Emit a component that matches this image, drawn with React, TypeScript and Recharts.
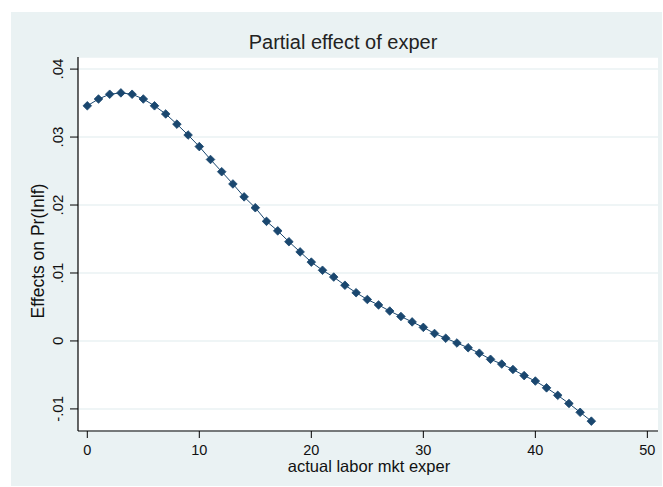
import React from "react";
import {
  LineChart,
  Line,
  XAxis,
  YAxis,
  CartesianGrid,
} from "recharts";

// experience in years, 0..45
const exper = [
  0, 1, 2, 3, 4, 5, 6, 7, 8, 9, 10, 11, 12, 13, 14, 15, 16, 17, 18, 19, 20, 21,
  22, 23, 24, 25, 26, 27, 28, 29, 30, 31, 32, 33, 34, 35, 36, 37, 38, 39, 40,
  41, 42, 43, 44, 45,
];

// partial effect on Pr(inlf)
const effect = [
  0.0346, 0.0356, 0.0363, 0.0365, 0.0363, 0.0356, 0.0346, 0.0334, 0.0319,
  0.0303, 0.0286, 0.0267, 0.0249, 0.0231, 0.0212, 0.0196, 0.0176, 0.0162,
  0.0146, 0.0131, 0.0116, 0.0104, 0.0094, 0.0082, 0.0071, 0.0061, 0.0053,
  0.0044, 0.0036, 0.0028, 0.002, 0.0011, 0.0004, -0.0003, -0.001, -0.0018,
  -0.0027, -0.0034, -0.0042, -0.0051, -0.0059, -0.0069, -0.008, -0.0092,
  -0.0105, -0.0118,
];

const xTicks = [0, 10, 20, 30, 40, 50];
const yTicks = [-0.01, 0, 0.01, 0.02, 0.03, 0.04];

const data = exper.map((x, i) => ({ exper: x, effect: effect[i] }));

const NAVY = "#1a476f";
const BG = "#eaf2f3";
const FONT = "'Liberation Sans', Arial, sans-serif";

// stata style: ".04", "-.01"
const fmt = (v: number) => {
  if (Math.abs(v) < 1e-9) return "0";
  const s = v.toFixed(2);
  return s.replace("0.", ".");
};

const YTick = (props: any) => {
  const { y, payload } = props;
  const x = 63;
  return (
    <text
      x={x}
      y={y}
      transform={`rotate(-90, ${x}, ${y})`}
      textAnchor="middle"
      fontSize={15}
      fontFamily={FONT}
      fill="#111"
    >
      {fmt(payload.value)}
    </text>
  );
};

const XTick = (props: any) => {
  const { x, payload } = props;
  return (
    <text
      x={x}
      y={455}
      textAnchor="middle"
      fontSize={14.5}
      fontFamily={FONT}
      fill="#111"
    >
      {payload.value}
    </text>
  );
};

const Diamond = (props: any) => {
  const { cx, cy } = props;
  if (cx == null || cy == null) return null;
  const r = 4.3;
  return (
    <polygon
      points={`${cx},${cy - r} ${cx + r},${cy} ${cx},${cy + r} ${cx - r},${cy}`}
      fill={NAVY}
      stroke={NAVY}
      strokeWidth={0.8}
      strokeLinejoin="round"
    />
  );
};

export default function App() {
  return (
    <div
      style={{
        position: "absolute",
        left: 0,
        top: 0,
        width: 663,
        height: 487,
        background: "#fff",
      }}
    >
      <div
        style={{
          position: "absolute",
          left: 11,
          top: 12,
          width: 651,
          height: 474,
          background: BG,
        }}
      />
      <div
        style={{
          position: "absolute",
          left: 0,
          top: 31,
          width: 686,
          textAlign: "center",
          fontFamily: FONT,
          fontSize: 20,
          lineHeight: "23px",
          color: "#222",
        }}
      >
        Partial effect of exper
      </div>
      <div style={{ position: "absolute", left: 0, top: 0 }}>
        <LineChart
          width={663}
          height={487}
          data={data}
          margin={{ top: 57, right: 5, left: 0, bottom: 0 }}
        >
          <CartesianGrid
            horizontal={true}
            vertical={false}
            fill="#fff"
            stroke={BG}
            strokeWidth={1.5}
          />
          <XAxis
            dataKey="exper"
            type="number"
            domain={[-0.83, 50.95]}
            ticks={xTicks}
            allowDataOverflow
            height={56}
            tickSize={7}
            axisLine={{ stroke: "#000", strokeWidth: 1.2 }}
            tickLine={{ stroke: "#000" }}
            tick={<XTick />}
            label={{
              content: () => (
                <text
                  x={369}
                  y={472}
                  textAnchor="middle"
                  fontSize={16.5}
                  fontFamily={FONT}
                  fill="#111"
                >
                  actual labor mkt exper
                </text>
              ),
            }}
          />
          <YAxis
            type="number"
            domain={[-0.01325, 0.04178]}
            ticks={yTicks}
            allowDataOverflow
            width={78}
            tickSize={8}
            axisLine={{ stroke: "#000", strokeWidth: 1.2 }}
            tickLine={{ stroke: "#000" }}
            tick={<YTick />}
            label={{
              content: () => (
                <text
                  x={44}
                  y={251}
                  transform="rotate(-90, 44, 251)"
                  textAnchor="middle"
                  fontSize={17.5}
                  fontFamily={FONT}
                  fill="#111"
                >
                  Effects on Pr(Inlf)
                </text>
              ),
            }}
          />
          <Line
            type="linear"
            dataKey="effect"
            stroke={NAVY}
            strokeWidth={1}
            dot={<Diamond />}
            activeDot={false}
            isAnimationActive={false}
          />
        </LineChart>
      </div>
    </div>
  );
}
